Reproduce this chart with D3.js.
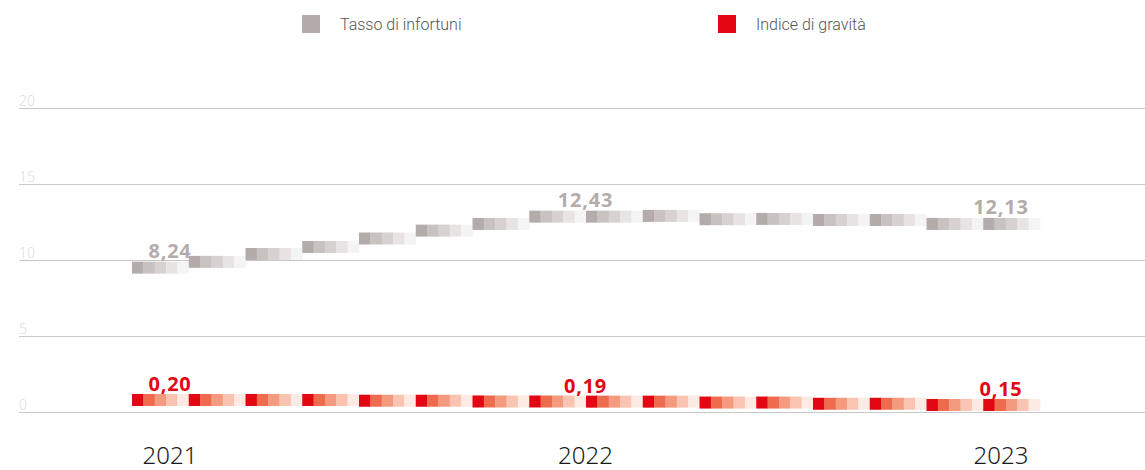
<!DOCTYPE html>
<html>
<head>
<meta charset="utf-8">
<script src="https://cdn.jsdelivr.net/npm/d3@7"></script>
<style>
  html, body { margin: 0; padding: 0; background: #fff; }
  svg { display: block; }
</style>
</head>
<body>
<svg id="chart" width="1145" height="470"></svg>
<script>
// ---- data ----
const years = ["2021", "2022", "2023"];
const yTicks = [0, 5, 10, 15, 20];
const seriesNames = ["Tasso di infortuni", "Indice di gravità"];
// stepped block values (16 steps)
const tassoSteps = [9.48, 9.86, 10.38, 10.84, 11.40, 11.92, 12.36, 12.84, 12.84, 12.89, 12.67, 12.69, 12.62, 12.62, 12.36, 12.36];
const indiceSteps = [0.76, 0.76, 0.76, 0.76, 0.71, 0.71, 0.66, 0.66, 0.65, 0.65, 0.59, 0.59, 0.51, 0.51, 0.43, 0.43];
// labelled values per year
const tassoLabels = ["8,24", "12,43", "12,13"];
const indiceLabels = ["0,20", "0,19", "0,15"];

const grayShades = ["#b4acab", "#c8c2c1", "#d7d2d1", "#e7e4e3", "#f5f4f4"];
const redShades = ["#e30613", "#ee6b4d", "#f49b7f", "#f9c5b2", "#fdebe3"];

const svg = d3.select("#chart");

// ---- scales ----
const y = d3.scaleLinear().domain([0, 20]).range([411.5, 108]);
const xStep = d3.scaleBand().domain(d3.range(tassoSteps.length)).range([132, 1040]).paddingInner(0).paddingOuter(0);
const xYear = d3.scalePoint().domain(years).range([170, 1001]);
const blockH = 12;

// ---- grid & y axis ----
const yAxis = d3.axisLeft(y).tickValues(yTicks).tickSize(0).tickFormat(d3.format("d"));
const gy = svg.append("g");
gy.selectAll("line.grid").data(yTicks).join("line")
  .attr("class", "grid")
  .attr("x1", 19).attr("x2", 1145)
  .attr("y1", d => Math.round(y(d)) + 0.5).attr("y2", d => Math.round(y(d)) + 0.5)
  .attr("stroke", "#c8c8c8").attr("stroke-width", 1);
gy.selectAll("text.tick").data(yTicks).join("text")
  .attr("class", "tick")
  .attr("x", 19).attr("y", d => y(d) - 2)
  .attr("font-family", "Noto Sans, sans-serif").attr("font-weight", 300)
  .attr("font-size", 14).attr("fill", "#dedede")
  .text(d => yAxis.tickFormat()(d));

// ---- blocks ----
function drawSeries(values, shades) {
  const g = svg.append("g");
  const sw = xStep.bandwidth() / shades.length;
  values.forEach((v, i) => {
    const x0 = xStep(i);
    const top = y(v) - blockH / 2;
    shades.forEach((c, k) => {
      g.append("rect")
        .attr("x", x0 + k * sw).attr("y", top)
        .attr("width", sw + 0.3).attr("height", blockH)
        .attr("fill", c);
    });
  });
}
drawSeries(tassoSteps, grayShades);
drawSeries(indiceSteps, redShades);

// ---- value labels ----
function stepAt(xpx, values) {
  const idx = Math.min(values.length - 1, Math.floor((xpx - xStep.range()[0]) / xStep.step()));
  return values[idx];
}
function drawLabels(labels, values, color, gap) {
  svg.append("g").selectAll("text").data(years).join("text")
    .attr("x", d => xYear(d))
    .attr("y", d => {
      const px = xYear(d);
      const v = Math.max(stepAt(px - 1, values), stepAt(px + 1, values));
      return y(v) - blockH / 2 - gap;
    })
    .attr("text-anchor", "middle")
    .attr("font-family", "Open Sans, sans-serif").attr("font-weight", 700)
    .attr("font-size", 20).attr("letter-spacing", 0.8).attr("fill", color)
    .text((d, i) => labels[i]);
}
drawLabels(tassoLabels, tassoSteps, "#b4acab", 4);
drawLabels(indiceLabels, indiceSteps, "#e30613", 2.5);

// ---- x axis (years) ----
svg.append("g").selectAll("text").data(years).join("text")
  .attr("x", d => xYear(d)).attr("y", 464)
  .attr("text-anchor", "middle")
  .attr("font-family", "Noto Sans, sans-serif").attr("font-weight", 300)
  .attr("font-size", 24).attr("fill", "#1a1a1a")
  .text(d => d);

// ---- legend ----
const legendX = [302, 718];
const legend = svg.append("g");
seriesNames.forEach((name, i) => {
  legend.append("rect").attr("x", legendX[i]).attr("y", 15).attr("width", 18).attr("height", 18)
    .attr("fill", i === 0 ? grayShades[0] : redShades[0]);
  legend.append("text").attr("x", legendX[i] + 38).attr("y", 30)
    .attr("font-family", "Roboto, sans-serif").attr("font-weight", 300)
    .attr("font-size", 16).attr("fill", "#555")
    .text(name);
});
</script>
</body>
</html>
